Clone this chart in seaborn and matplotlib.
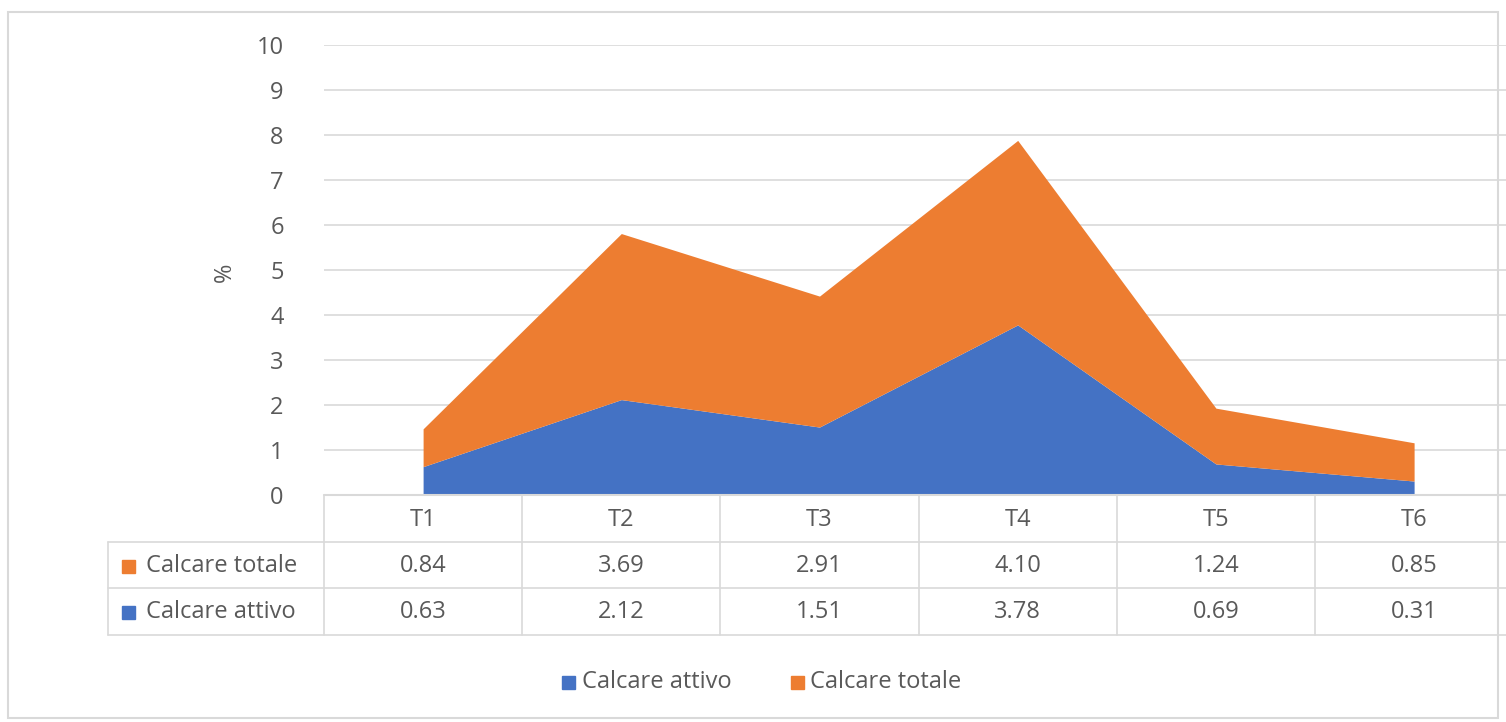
import matplotlib
matplotlib.use("Agg")
import matplotlib.pyplot as plt
from matplotlib.lines import Line2D
from matplotlib.patches import Rectangle
from matplotlib.transforms import blended_transform_factory
import seaborn as sns
import numpy as np

categories = ["T1", "T2", "T3", "T4", "T5", "T6"]
calcare_attivo = [0.63, 2.12, 1.51, 3.78, 0.69, 0.31]
calcare_totale = [0.84, 3.69, 2.91, 4.10, 1.24, 0.85]
series_names = ["Calcare attivo", "Calcare totale"]
yticks = [0, 1, 2, 3, 4, 5, 6, 7, 8, 9, 10]
value_labels_totale = ["0.84", "3.69", "2.91", "4.10", "1.24", "0.85"]
value_labels_attivo = ["0.63", "2.12", "1.51", "3.78", "0.69", "0.31"]

BLUE = "#4472C4"
ORANGE = "#ED7D31"
TXT = "#595959"
GRID = "#D9D9D9"
FS = 17

sns.set_theme(style="white")
plt.rcParams['font.family'] = ['Open Sans', 'DejaVu Sans']

W, H = 1506, 722
fig = plt.figure(figsize=(W / 100, H / 100), dpi=100)

def fx(px):
    return px / W

def fy(py):
    return 1 - py / H

left_px = 324
cat_w = 198.2
right_px = left_px + 6 * cat_w
top_px, bot_px = 45, 495
ax = fig.add_axes([fx(left_px), fy(bot_px), fx(right_px) - fx(left_px), fy(top_px) - fy(bot_px)])

x = np.arange(len(categories))
ax.stackplot(x, calcare_attivo, calcare_totale, colors=[BLUE, ORANGE], labels=series_names, linewidth=0)
ax.set_xlim(-0.5, len(categories) - 0.5)
ax.set_ylim(0, 10)
ax.set_yticks(yticks)
ax.set_yticklabels([str(t) for t in yticks])
ax.tick_params(axis='y', length=0, pad=29, labelsize=FS, labelcolor=TXT)
ax.set_xticks([])
for t in yticks:
    if t > 0:
        ax.axhline(t, color=GRID, lw=1.2, zorder=0)
for s in ax.spines.values():
    s.set_visible(False)
ax.set_ylabel("%", color=TXT, fontsize=FS)
ax.yaxis.set_label_coords((237 - left_px) / (right_px - left_px), 0.495)

# table
tr = blended_transform_factory(ax.transData, fig.transFigure)
row_ys = [495, 542, 588, 635]
fig.add_artist(Line2D([fx(left_px), fx(right_px)], [fy(495), fy(495)], color=GRID, lw=1.5))
for py in row_ys[1:]:
    fig.add_artist(Line2D([fx(108), fx(right_px)], [fy(py), fy(py)], color=GRID, lw=1.2))
fig.add_artist(Line2D([fx(108), fx(108)], [fy(542), fy(635)], color=GRID, lw=1.2))
for i in range(len(categories) + 1):
    xb = i - 0.5
    fig.add_artist(Line2D([xb, xb], [fy(495), fy(635)], color=GRID, lw=1.2, transform=tr))

for i, c in enumerate(categories):
    fig.text(i, fy(520), c, transform=tr, ha='center', va='center', fontsize=FS, color=TXT)
    fig.text(i, fy(566), value_labels_totale[i], transform=tr, ha='center', va='center', fontsize=FS, color=TXT)
    fig.text(i, fy(612), value_labels_attivo[i], transform=tr, ha='center', va='center', fontsize=FS, color=TXT)

sq = 13
fig.add_artist(Rectangle((fx(122), fy(566 + sq / 2)), sq / W, sq / H, color=ORANGE))
fig.add_artist(Rectangle((fx(122), fy(612 + sq / 2)), sq / W, sq / H, color=BLUE))
fig.text(fx(146), fy(566), "Calcare totale", ha='left', va='center', fontsize=FS, color=TXT)
fig.text(fx(146), fy(612), "Calcare attivo", ha='left', va='center', fontsize=FS, color=TXT)

# legend
fig.add_artist(Rectangle((fx(562), fy(682 + sq / 2)), sq / W, sq / H, color=BLUE))
fig.text(fx(582), fy(682), "Calcare attivo", ha='left', va='center', fontsize=FS, color=TXT)
fig.add_artist(Rectangle((fx(791), fy(682 + sq / 2)), sq / W, sq / H, color=ORANGE))
fig.text(fx(810), fy(682), "Calcare totale", ha='left', va='center', fontsize=FS, color=TXT)

# outer chart border
fig.add_artist(Rectangle((fx(8), fy(718)), fx(1498) - fx(8), fy(12) - fy(718), fill=False, ec=GRID, lw=1.5))

fig.savefig("out.png", dpi=100)
